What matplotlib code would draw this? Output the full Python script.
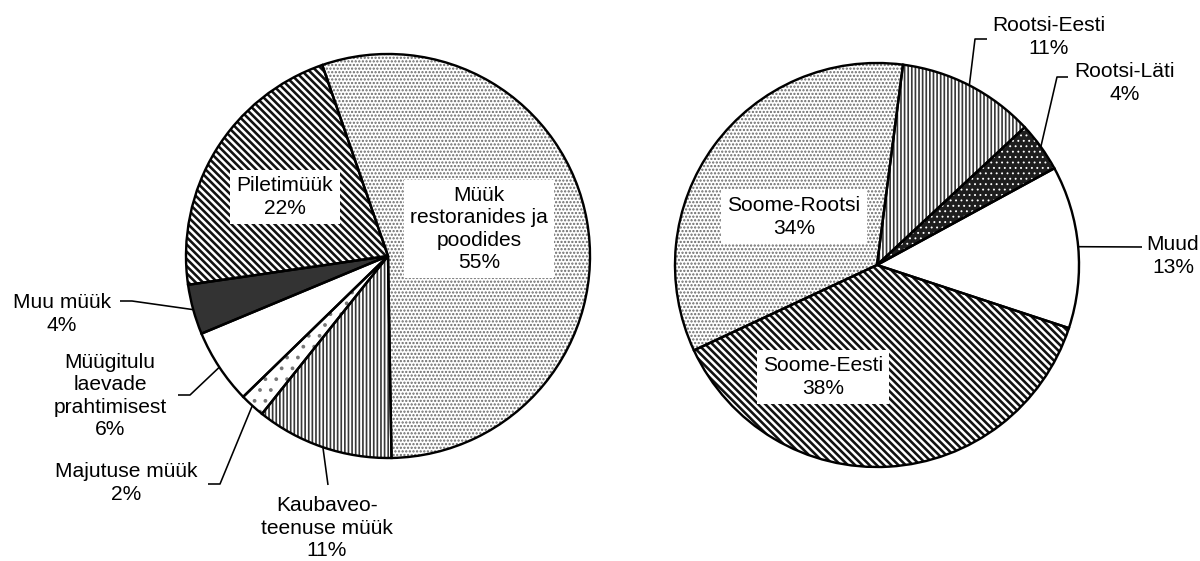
import matplotlib
matplotlib.use('Agg')
import matplotlib.pyplot as plt
import numpy as np

DPI = 130
W, H = 1200, 561
PT = 72 / DPI  # points per pixel

plt.rcParams['font.family'] = ['Liberation Sans', 'DejaVu Sans']
plt.rcParams['hatch.linewidth'] = 1.6 * PT

# Left pie: revenue structure
income_labels = ['Müük\nrestoranides ja\npoodides', 'Kaubaveo-\nteenuse müük', 'Majutuse müük',
                 'Müügitulu\nlaevade\nprahtimisest', 'Muu müük', 'Piletimüük']
income_shares = [55, 11, 2, 6, 4, 22]

# Right pie: routes
route_labels = ['Rootsi-Eesti', 'Rootsi-Läti', 'Muud', 'Soome-Eesti', 'Soome-Rootsi']
route_shares = [11, 4, 13, 38, 34]

# (facecolor, hatch, hatch colour, hatch linewidth px)
DOTS = ('white', '......', '#686868', 1.5)
VSTRIPE = ('white', '||||||', '#383838', 1.7)
DIAG = ('white', '\\' * 6, '#111111', 2.6)
income_styles = [DOTS, VSTRIPE,
                 ('white', '..', '#777777', 1.6),
                 ('white', '', 'white', 1.0),
                 ('#333333', '', '#333333', 1.0),
                 DIAG]
route_styles = [VSTRIPE,
                ('#1e1e1e', '....', 'white', 0.9),
                ('white', '', 'white', 1.0),
                DIAG,
                DOTS]

# label positions in image pixels (x, y from top), boxed or not
income_pos = [(479, 229, True), (327, 528, False), (126, 483, False),
              (110, 396, False), (62, 314, False), (285, 197, True)]
route_pos = [(1049, 37, False), (1125, 83, False), (1173, 256, False),
             (823, 377, True), (794, 217, True)]

# leader line elbows for outside labels
income_leaders = {1: [(328, 485)], 2: [(220, 484), (208, 484)],
                  3: [(190, 395), (178, 395)], 4: [(132, 301), (120, 301)]}
route_leaders = {0: [(975, 39), (987, 39)], 1: [(1057, 77), (1068, 77)],
                 2: [(1142, 247)]}

fig = plt.figure(figsize=(W / DPI, H / DPI), dpi=DPI)
ax = fig.add_axes([0, 0, 1, 1])


def draw_pie(shares, labels, styles, pos, leaders, cx, cy, r, start):
    center = (cx, H - cy)
    wedges, _ = ax.pie(shares, center=center, radius=r, startangle=start,
                       counterclock=False, wedgeprops=dict(linewidth=0))
    for w, (fc, hatch, hc, hlw) in zip(wedges, styles):
        w.set_facecolor(fc)
        w.set_edgecolor(hc)
        w.set_hatch(hatch)
        if hasattr(w, 'set_hatch_linewidth'):
            w.set_hatch_linewidth(hlw * PT)
    ax.pie(shares, center=center, radius=r, startangle=start, counterclock=False,
           wedgeprops=dict(facecolor='none', edgecolor='black', linewidth=2.4 * PT))

    for i, (w, lab, share) in enumerate(zip(wedges, labels, shares)):
        x, y, boxed = pos[i]
        bbox = dict(boxstyle='square,pad=0.3', facecolor='white', edgecolor='none') if boxed else None
        ax.text(x, H - y, f'{lab}\n{share}%', ha='center', va='center', fontsize=21 * PT,
                linespacing=1.22, color='black', bbox=bbox, zorder=5)
        if i in leaders:
            mid = np.deg2rad((w.theta1 + w.theta2) / 2)
            pts = [(center[0] + r * np.cos(mid), center[1] + r * np.sin(mid))]
            pts += [(px, H - py) for px, py in leaders[i]]
            xs, ys = zip(*pts)
            ax.plot(xs, ys, color='black', linewidth=1.6 * PT, solid_capstyle='butt', zorder=4)


draw_pie(income_shares, income_labels, income_styles, income_pos, income_leaders,
         388, 256, 202, 109)
draw_pie(route_shares, route_labels, route_styles, route_pos, route_leaders,
         877, 265, 202, 82.6)

ax.set_xlim(0, W)
ax.set_ylim(0, H)
ax.set_aspect('equal')
ax.axis('off')

fig.savefig('out.png', dpi=DPI, facecolor='white')
